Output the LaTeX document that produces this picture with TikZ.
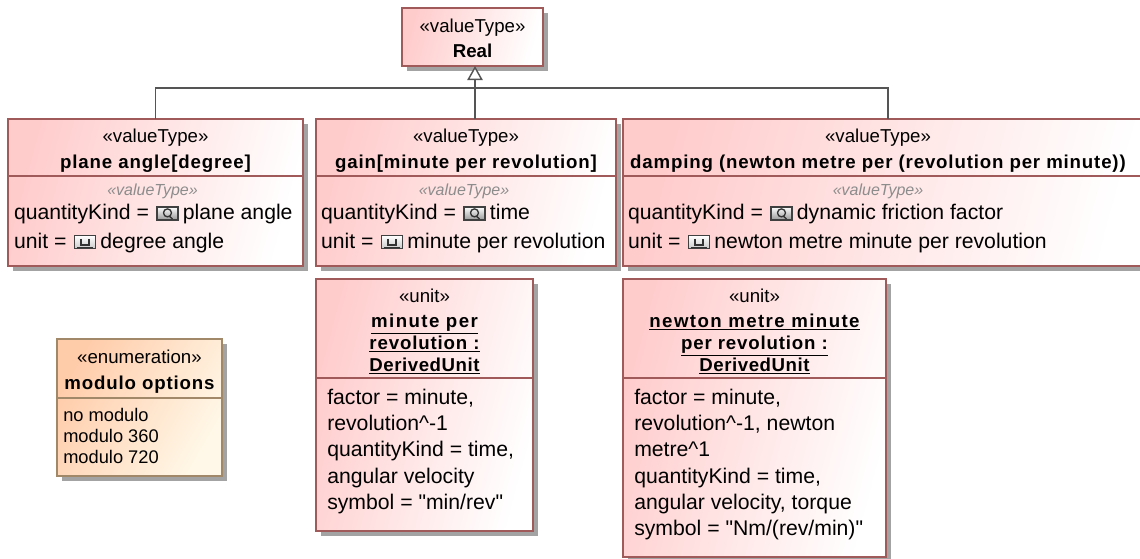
\documentclass[tikz,border=0pt]{standalone}
\usepackage{fontspec}
\setmainfont{Liberation Sans}
\newfontfamily\quotefont{Liberation Sans}
\newfontfamily\spacedbf[LetterSpace=4.5]{Liberation Sans Bold}
\newfontfamily\widebf[LetterSpace=7.5]{Liberation Sans Bold}
\newfontfamily\tightbf[LetterSpace=3]{Liberation Sans Bold}
\usetikzlibrary{positioning,shadows,arrows.meta}

\definecolor{boxred}{HTML}{FFCCCC}
\definecolor{edgered}{HTML}{A05A5A}
\definecolor{boxorange}{HTML}{FFCCAA}
\definecolor{boxcream}{HTML}{FFF8E8}
\definecolor{edgetan}{HTML}{A08868}
\definecolor{linegray}{HTML}{555555}
\newcommand{\headstrut}{\rule{0pt}{15pt}}
\newcommand{\plainquote}{{\quotefont\symbol{34}}}

\tikzset{
	basebox/.style 2 args={rectangle,minimum width=#1*0.75pt,minimum height=#2*0.75pt,
		inner sep=0pt,outer sep=0pt,line width=1.1pt,
		drop shadow={shadow xshift=3.6pt,shadow yshift=-3.6pt,fill=black!36,opacity=1}},
	redbox/.style 2 args={basebox={#1}{#2},draw=edgered,left color=boxred,right color=white,shading angle=75},
	enumbox/.style 2 args={basebox={#1}{#2},draw=edgetan,left color=boxorange,right color=boxcream,shading angle=60},
	headbox/.style 2 args={rectangle,anchor=north,minimum width=#1*0.75pt,minimum height=#2*0.75pt,
		inner sep=0pt,outer sep=0pt,align=center,font=\fontsize{14pt}{20pt}\selectfont},
	sepline/.style={draw=edgered,line width=0.8pt},
	genline/.style={draw=linegray,line width=1.1pt},
	bodytext/.style={anchor=base west,inner sep=0pt,outer sep=0pt,font=\fontsize{15.9pt}{20pt}\selectfont},
	smalltag/.style={inner sep=0pt,text=black!45,font=\fontsize{12pt}{14pt}\selectfont\itshape},
	listtext/.style={anchor=north west,inner sep=0pt,align=left},
	qkicon/.pic={
		\draw[line width=1pt,draw=black!75,top color=white,bottom color=black!40] (-10.5,-6.5) rectangle (10.5,6.5);
		\draw[line width=1pt,draw=black!80] (0,-0.5) circle (4) (2,3) -- (5,5.5);
	},
	uniticon/.pic={
		\draw[line width=1pt,draw=black!75,top color=white,bottom color=black!20] (-10.5,-6.5) rectangle (10.5,6.5);
		\draw[line width=1pt,draw=black!80] (-4,-3) -- (-4,3) -- (4,3) -- (4,-3) (-8,5.5) -- (8,5.5);
	}
}

\begin{document}
\begin{tikzpicture}[x=0.75pt,y=-0.75pt,node distance=9.75pt]
	\useasboundingbox (0,0) rectangle (1140,558);
	% value types
	\node[redbox={295}{147},anchor=north west] (plane) at (8,119) {};
	\node[redbox={300}{147}] (gain) [right=of plane] {};
	\node[redbox={530}{147},anchor=west] (damping) at (623,192.5) {};
	\node[redbox={141}{58},anchor=north] (real) at (472.5,8) {};
	% units
	\node[redbox={217}{252},anchor=north west] (minute) at (316,279) {};
	\node[redbox={263}{278},anchor=north west] (newton) at (623,279) {};
	% enumeration
	\node[enumbox={165}{137},anchor=north west] (modulo) at (57,339) {};
	% headers
	\node[headbox={141}{54},font=\fontsize{14pt}{19pt}\selectfont] (realhead) at (real.north) {\headstrut«valueType»\\\textbf{Real}};
	\node[headbox={295}{57}] (planehead) at (plane.north) {\headstrut«valueType»\\{\spacedbf plane angle[degree]}};
	\node[headbox={300}{57}] (gainhead) at (gain.north) {\headstrut«valueType»\\{\spacedbf gain[minute per revolution]}};
	\node[headbox={510}{57},anchor=north west] (damphead) at (damping.north west) {\headstrut«valueType»\\{\spacedbf damping (newton metre per (revolution per minute))}};
	\node[headbox={217}{99},font=\fontsize{14pt}{16.5pt}\selectfont] (minutehead) at (minute.north) {\headstrut«unit»\\[2pt]{\widebf\underline{minute per}}\\{\spacedbf\underline{revolution :}}\\{\tightbf\underline{DerivedUnit}}};
	\node[headbox={263}{99},font=\fontsize{14pt}{16.5pt}\selectfont] (newtonhead) at (newton.north) {\headstrut«unit»\\[2pt]{\widebf\underline{newton metre minute}}\\{\spacedbf\underline{per revolution :}}\\{\tightbf\underline{DerivedUnit}}};
	\node[headbox={165}{59}] (modulohead) at (modulo.north) {\headstrut«enumeration»\\{\spacedbf modulo options}};
	\draw[sepline] (planehead.south west) -- (planehead.south east);
	\draw[sepline] (gainhead.south west) -- (gainhead.south east);
	\draw[sepline] (damphead.south west) -- (damping.east |- damphead.south);
	\draw[sepline] (minutehead.south west) -- (minutehead.south east);
	\draw[sepline] (newtonhead.south west) -- (newtonhead.south east);
	\draw[sepline,draw=edgetan] (modulohead.south west) -- (modulohead.south east);
	% slots of the value types
	\node[smalltag] (planetag) at (152.5,191) {«valueType»};
	\node[smalltag] (gaintag) at (464,191) {«valueType»};
	\node[smalltag] (damptag) at (878,191) {«valueType»};
	\foreach \col/\colx/\qkval/\unitval in {plane/14/plane angle/degree angle,
			gain/321/time/minute per revolution,
			damp/628/dynamic friction factor/newton metre minute per revolution}{
		\node[bodytext] (\col qk) at (\colx,219.5) {quantityKind =};
		\pic at ([xshift=13.9pt,yshift=4.6pt]\col qk.base east) {qkicon};
		\node[bodytext] (\col qkval) at ([xshift=25.5pt]\col qk.base east) {\qkval};
		\node[bodytext] (\col unit) at (\colx,248) {unit =};
		\pic at ([xshift=13.9pt,yshift=4.6pt]\col unit.base east) {uniticon};
		\node[bodytext] (\col unitval) at ([xshift=25.5pt]\col unit.base east) {\unitval};
	}
	% unit slots
	\node[listtext,font=\fontsize{15.9pt}{19.6pt}\selectfont] (minuteslots) at (327,389) {factor = minute,\\revolution\textasciicircum-1\\quantityKind = time,\\angular velocity\\symbol = \plainquote min/rev\plainquote};
	\node[listtext,font=\fontsize{15.9pt}{19.6pt}\selectfont] (newtonslots) at (634,389) {factor = minute,\\revolution\textasciicircum-1, newton\\metre\textasciicircum1\\quantityKind = time,\\angular velocity, torque\\symbol = \plainquote Nm/(rev/min)\plainquote};
	\node[listtext,font=\fontsize{13.7pt}{15.75pt}\selectfont] (modulolist) at (63,408) {no modulo\\modulo 360\\modulo 720};
	% generalizations
	\coordinate (realfoot) at (475,66);
	\coordinate (gaintop) at (475,119);
	\coordinate (bus) at (475,88);
	\draw[genline] (plane.north) |- (bus);
	\draw[genline] (damping.north) |- (bus);
	\draw[genline,-{Triangle[open,length=10.5pt,width=11.5pt,fill=white]}] (gaintop) -- (realfoot);
\end{tikzpicture}
\end{document}
